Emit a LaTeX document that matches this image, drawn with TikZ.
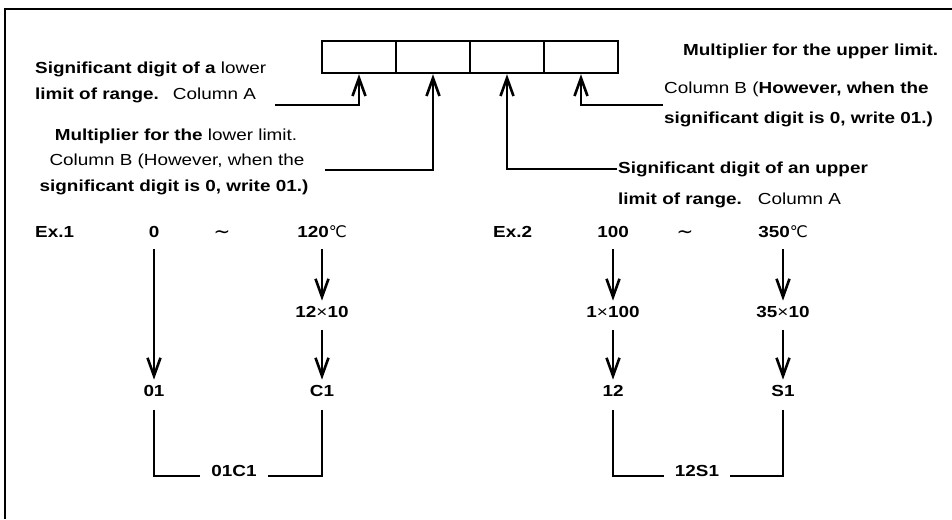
\documentclass[tikz,border=0pt]{standalone}
\usepackage{fontspec}
\setmainfont{Liberation Sans}[FakeStretch=1.18]
\newfontfamily\dejavu{DejaVu Sans}
\usetikzlibrary{arrows.meta}
\begin{document}
\begin{tikzpicture}[x=1pt,y=-1pt,
  txt/.style={inner sep=0pt, font=\fontsize{16}{19}\selectfont},
  num/.style={inner sep=5pt, anchor=base, font=\fontsize{16}{19}\selectfont\bfseries},
  tld/.style={inner sep=5pt, anchor=base, font=\fontsize{20}{22}\selectfont\dejavu},
  lbl/.style={inner ysep=3pt, inner xsep=11pt, anchor=base, font=\fontsize{16}{19}\selectfont\bfseries},
  cell/.style={draw, line width=2.4pt, minimum width=74pt, minimum height=32pt, inner sep=0pt},
  arr/.style={line width=2.6pt, -{Straight Barb[length=18pt,width=13pt]}},
  brk/.style={line width=2.6pt},
  frame/.style={line width=2pt}]
\useasboundingbox (0,0) rectangle (952,519);
\draw[frame] (5,519) -- (5,9) -- (952,9);
% cells
\node[cell] (c1) at (359,57) {};
\node[cell] (c2) at (433,57) {};
\node[cell] (c3) at (507,57) {};
\node[cell] (c4) at (581,57) {};
% left top text
\node[txt, anchor=base west] (a1) at (35,74) {\textbf{Significant digit of a} lower};
\node[txt, anchor=base west] (a2) at (35,99) {\textbf{limit of range.}\hspace{14pt}Column A};
\coordinate (pa) at (275,105);
\draw[arr] (pa) -| (c1.south);
% left middle text
\node[txt, anchor=base] (b1) at (176,140) {\textbf{Multiplier for the} lower limit.};
\node[txt, anchor=base] (b2) at (177,165) {Column B (However, when the};
\node[txt, anchor=base] (b3) at (174,191) {\textbf{significant digit is 0, write 01.)}};
\coordinate (pb) at (325,170);
\draw[arr] (pb) -| (c2.south);
% right lower text
\node[txt, anchor=base west] (d1) at (618,173) {\textbf{Significant digit of an upper}};
\node[txt, anchor=base west] (d2) at (618,204) {\textbf{limit of range.}\hspace{16pt}Column A};
\coordinate (pd) at (617,169);
\draw[arr] (pd) -| (c3.south);
% right upper text
\node[txt, anchor=base west] (e1) at (683,56) {\textbf{Multiplier for the upper limit.}};
\node[txt, anchor=base west] (e2) at (664,93) {Column B (\textbf{However, when the}};
\node[txt, anchor=base west] (e3) at (664,123) {\textbf{significant digit is 0, write 01.)}};
\coordinate (pe) at (663,105);
\draw[arr] (pe) -| (c4.south);
% Example 1
\node[txt, anchor=base west] (ex1) at (35,237) {\textbf{Ex.1}};
\node[num] (n0) at (154,237) {0};
\node[tld] (t1) at (222,238) {∼};
\node[num] (n120) at (322,237) {120{\mdseries\dejavu ℃}};
\node[num] (m1210) at (322,317) {12{\mdseries×}10};
\node[num] (r01) at (154,396) {01};
\node[num] (rc1) at (322,396) {C1};
\node[lbl] (l1) at (234,476) {01C1};
\draw[arr, shorten <=7pt] (n0.south) -- (r01.north);
\draw[arr, shorten <=7pt] (n120.south) -- (m1210.north);
\draw[arr, shorten <=8pt] (m1210.south) -- (rc1.north);
\draw[brk, shorten <=9pt] (r01.south) |- (l1.base west);
\draw[brk, shorten <=9pt] (rc1.south) |- (l1.base east);
% Example 2
\node[txt, anchor=base west] (ex2) at (493,237) {\textbf{Ex.2}};
\node[num] (n100) at (613,237) {100};
\node[tld] (t2) at (685,238) {∼};
\node[num] (n350) at (783,237) {350{\mdseries\dejavu ℃}};
\node[num] (m1100) at (613,317) {1{\mdseries×}100};
\node[num] (m3510) at (783,317) {35{\mdseries×}10};
\node[num] (r12) at (613,396) {12};
\node[num] (rs1) at (783,396) {S1};
\node[lbl] (l2) at (697,476) {12S1};
\draw[arr, shorten <=7pt] (n100.south) -- (m1100.north);
\draw[arr, shorten <=8pt] (m1100.south) -- (r12.north);
\draw[arr, shorten <=7pt] (n350.south) -- (m3510.north);
\draw[arr, shorten <=8pt] (m3510.south) -- (rs1.north);
\draw[brk, shorten <=9pt] (r12.south) |- (l2.base west);
\draw[brk, shorten <=9pt] (rs1.south) |- (l2.base east);
\end{tikzpicture}
\end{document}
